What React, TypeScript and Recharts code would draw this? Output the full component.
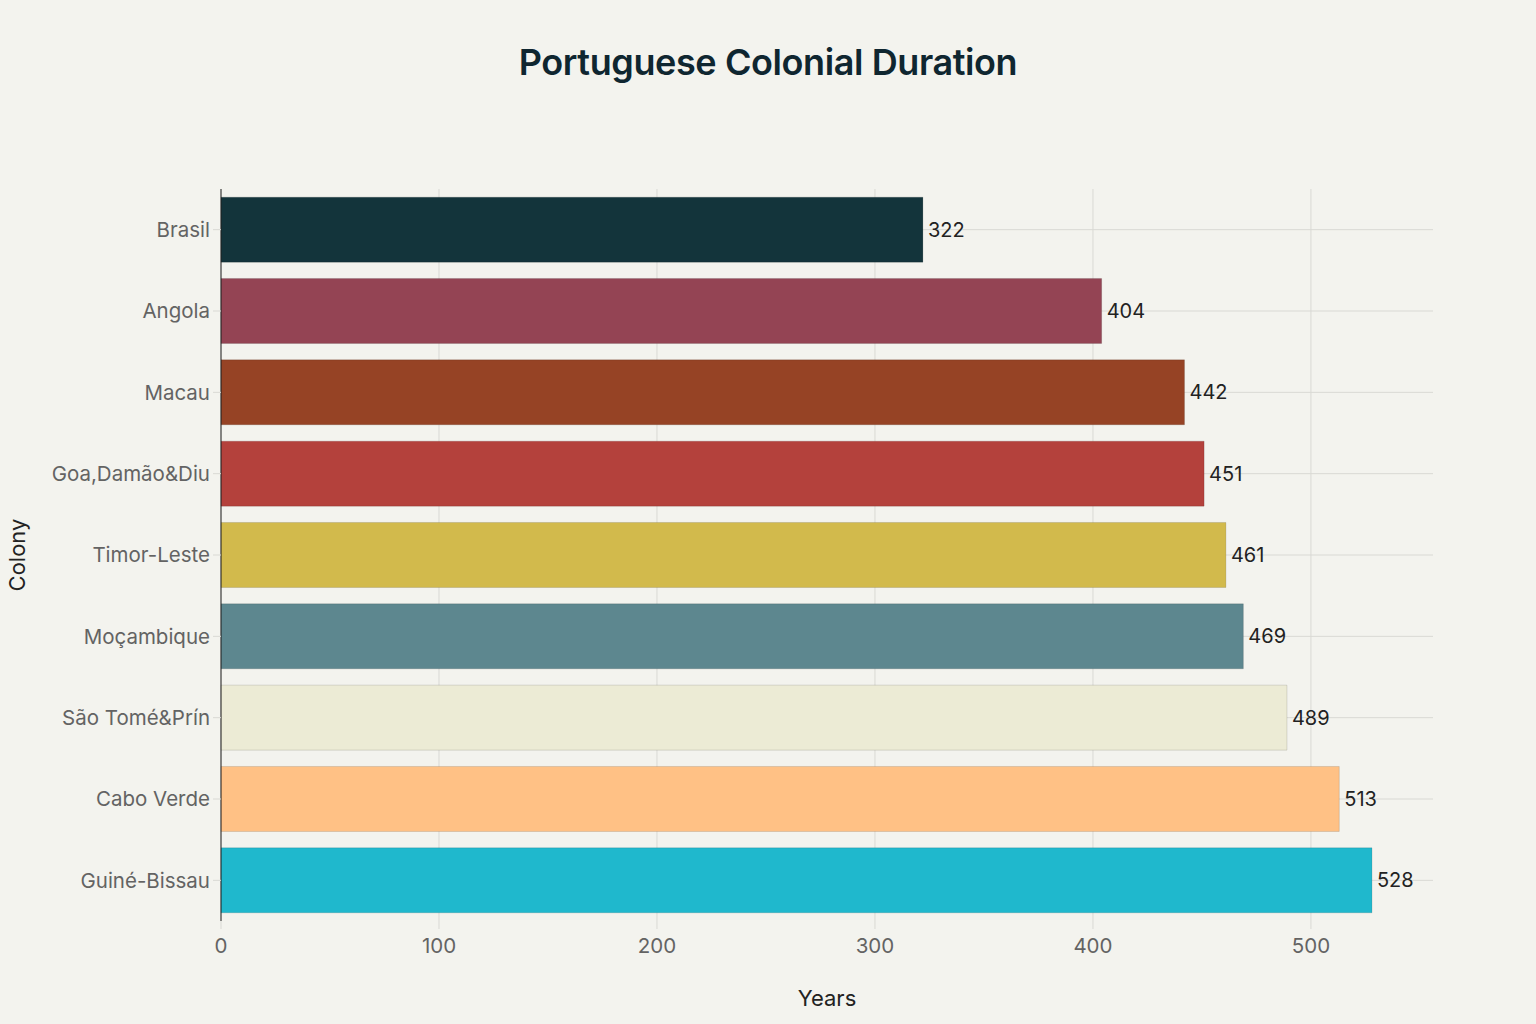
import React from "react";
import { Bar, BarChart, CartesianGrid, Cell, LabelList, Label, XAxis, YAxis } from "recharts";

const colonies = [
  "Brasil",
  "Angola",
  "Macau",
  "Goa,Damão&Diu",
  "Timor-Leste",
  "Moçambique",
  "São Tomé&Prín",
  "Cabo Verde",
  "Guiné-Bissau",
];
const years = [322, 404, 442, 451, 461, 469, 489, 513, 528];
const barColors = [
  "#13343B",
  "#944454",
  "#964325",
  "#B4413C",
  "#D2BA4C",
  "#5D878F",
  "#ECEBD5",
  "#FFC185",
  "#1FB8CD",
];
const xTicks = [0, 100, 200, 300, 400, 500];

const FONT = "Inter, 'Open Sans', sans-serif";
const BG = "#F3F3EE";
const GRID = "#D9D9D4";

export default function App() {
  const data = colonies.map((c, i) => ({ colony: c, years: years[i] }));

  return (
    <div
      style={{
        position: "absolute",
        left: 0,
        top: 0,
        width: 1536,
        height: 1024,
        background: BG,
        fontFamily: FONT,
      }}
    >
      <div
        style={{
          position: "absolute",
          left: 0,
          width: 1536,
          top: 40,
          textAlign: "center",
          fontSize: 36,
          fontWeight: 600,
          color: "#0F2630",
          letterSpacing: -0.4,
        }}
      >
        Portuguese Colonial Duration
      </div>
      <BarChart
        width={1536}
        height={1024}
        data={data}
        layout="vertical"
        margin={{ top: 189, right: 103, bottom: 0, left: 0 }}
        barCategoryGap="10%"
        style={{ position: "absolute", left: 0, top: 0 }}
      >
        {/* lines only at the ticks, no box round the plot */}
        <CartesianGrid stroke={GRID} strokeWidth={1} syncWithTicks />
        <XAxis
          type="number"
          domain={[0, 556]}
          ticks={xTicks}
          height={103}
          axisLine={false}
          tickLine={{ stroke: GRID }}
          tickSize={8}
          tickMargin={9}
          tick={{ fill: "#636363", fontSize: 20.5, fontFamily: FONT }}
        >
          <Label
            content={({ viewBox }: any) => (
              <text
                x={viewBox.x + viewBox.width / 2}
                y={998}
                textAnchor="middle"
                dominantBaseline="central"
                fill="#222"
                fontSize={22}
                fontFamily={FONT}
              >
                Years
              </text>
            )}
          />
        </XAxis>
        <YAxis
          type="category"
          dataKey="colony"
          width={221}
          axisLine={{ stroke: "#222", strokeWidth: 1 }}
          tickLine={{ stroke: GRID }}
          tickSize={8}
          tickMargin={3}
          tick={{ fill: "#636363", fontSize: 20.5, fontFamily: FONT }}
        >
          <Label
            content={({ viewBox }: any) => {
              const cy = viewBox.y + viewBox.height / 2;
              return (
                <text
                  x={17}
                  y={cy}
                  textAnchor="middle"
                  dominantBaseline="central"
                  transform={`rotate(-90, 17, ${cy})`}
                  fill="#222"
                  fontSize={22}
                  fontFamily={FONT}
                >
                  Colony
                </text>
              );
            }}
          />
        </YAxis>
        <Bar dataKey="years" isAnimationActive={false} stroke="rgba(0,0,0,0.12)" strokeWidth={1}>
          {data.map((_, i) => (
            <Cell key={i} fill={barColors[i]} />
          ))}
          <LabelList
            dataKey="years"
            position="right"
            offset={5}
            fill="#222"
            fontSize={20}
            fontFamily={FONT}
          />
        </Bar>
      </BarChart>
    </div>
  );
}
